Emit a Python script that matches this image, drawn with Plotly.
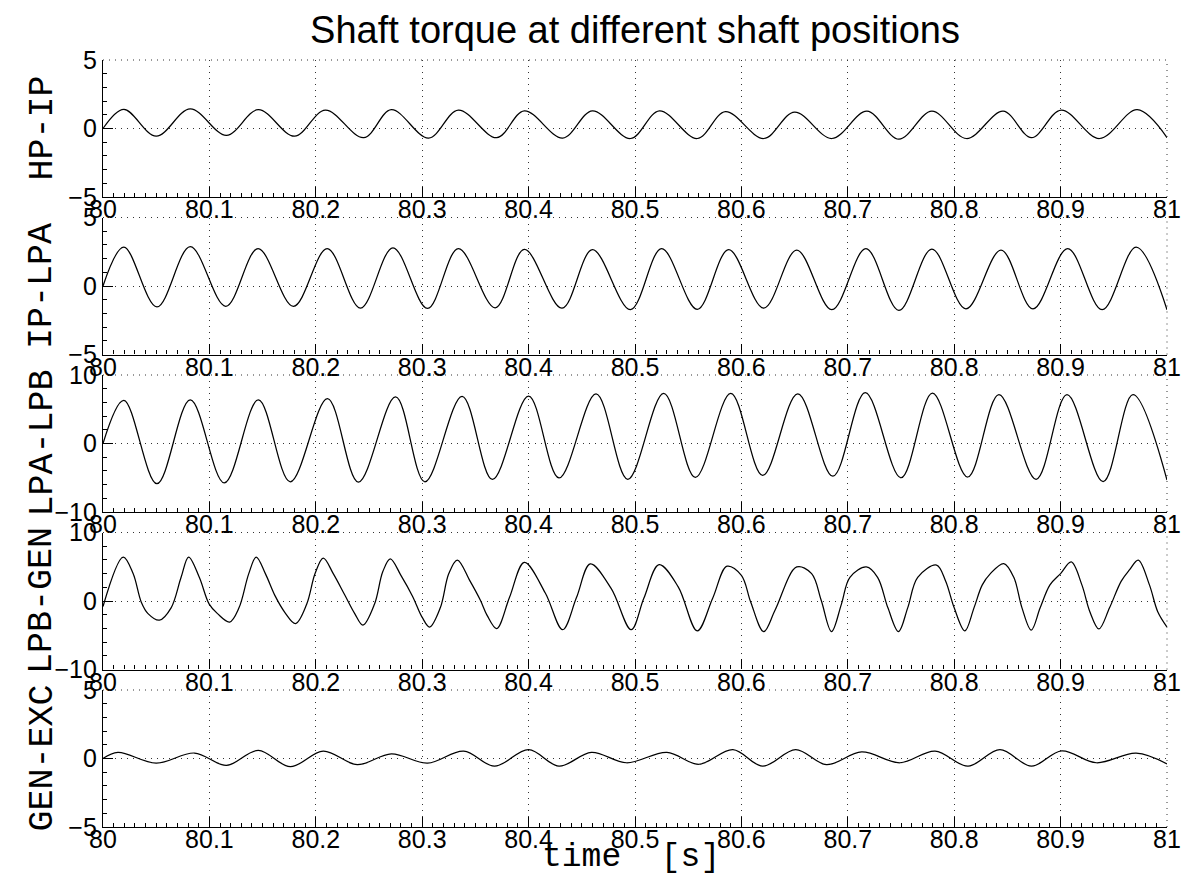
import plotly.graph_objects as go

# ---------------- data ----------------
hp_ip_t = [80.0, 80.0196, 80.05, 80.082, 80.116, 80.146, 80.18, 80.209, 80.245, 80.271, 80.306,
           80.334, 80.37, 80.396, 80.432, 80.46, 80.4957, 80.523, 80.5585, 80.585, 80.621, 80.65,
           80.685, 80.718, 80.748, 80.779, 80.8116, 80.846, 80.8726, 80.9006, 80.9365, 80.972, 81.0]
hp_ip_v = [0.0, 1.4, -0.56, 1.43, -0.5, 1.37, -0.56, 1.34, -0.67, 1.37, -0.7,
           1.34, -0.67, 1.29, -0.7, 1.29, -0.73, 1.29, -0.73, 1.23, -0.73, 1.2,
           -0.73, 1.26, -0.78, 1.26, -0.73, 1.26, -0.67, 1.34, -0.73, 1.37, -0.67]

ip_lpa_t = [80.0, 80.0196, 80.0507, 80.082, 80.1154, 80.1457, 80.179, 80.2107, 80.242, 80.2725, 80.305,
            80.334, 80.3686, 80.396, 80.4314, 80.46, 80.4957, 80.525, 80.5585, 80.588, 80.621, 80.652,
            80.685, 80.717, 80.748, 80.779, 80.811, 80.844, 80.874, 80.9067, 80.939, 80.971, 81.0]
ip_lpa_v = [0.0, 2.84, -1.53, 2.87, -1.48, 2.73, -1.48, 2.73, -1.62, 2.79, -1.64,
            2.73, -1.59, 2.67, -1.62, 2.65, -1.73, 2.73, -1.7, 2.65, -1.62, 2.62,
            -1.73, 2.73, -1.78, 2.7, -1.67, 2.62, -1.67, 2.73, -1.73, 2.84, -1.73]

lpa_lpb_t = [80.0, 80.0196, 80.0507, 80.082, 80.114, 80.146, 80.176, 80.211, 80.24, 80.275, 80.3025,
             80.3375, 80.366, 80.4, 80.4286, 80.4634, 80.4932, 80.527, 80.5567, 80.59, 80.62, 80.653,
             80.686, 80.7164, 80.75, 80.7795, 80.8127, 80.842, 80.877, 80.906, 80.94, 80.968, 81.0]
lpa_lpb_v = [0.0, 6.3, -5.87, 6.37, -5.75, 6.37, -5.59, 6.54, -5.64, 6.8, -5.59,
             6.87, -5.25, 6.93, -5.03, 7.25, -5.22, 7.3, -4.94, 7.3, -4.66, 7.25,
             -4.78, 7.42, -5.0, 7.36, -4.89, 7.13, -5.22, 7.13, -5.56, 7.13, -5.34]

lpb_gen_t = [80.0, 80.019, 80.0283, 80.036, 80.0423, 80.053, 80.064, 80.0734, 80.0805,
             80.0905, 80.0998, 80.1076, 80.119, 80.1278, 80.137, 80.144,
             80.1526, 80.162, 80.171, 80.181, 80.1915, 80.1993, 80.207,
             80.2164, 80.227, 80.2366, 80.2443, 80.2552, 80.263, 80.27,
             80.28, 80.291, 80.3, 80.307, 80.317, 80.325, 80.333,
             80.345, 80.3547, 80.361, 80.37, 80.382, 80.396,
             80.4157, 80.432, 80.445, 80.458, 80.4777, 80.4964, 80.5083, 80.5226,
             80.5406, 80.5585, 80.573, 80.5865, 80.6, 80.6088, 80.621, 80.6318, 80.652,
             80.666, 80.675, 80.6847, 80.694, 80.702, 80.7174,
             80.728, 80.7377, 80.7476, 80.7563, 80.7657, 80.7834,
             80.792, 80.8, 80.81, 80.8186, 80.8264, 80.834, 80.8466,
             80.856, 80.8637, 80.8724, 80.8808, 80.89, 80.9, 80.91,
             80.92, 80.9275, 80.936, 80.946, 80.957, 80.9649, 80.973,
             80.9835, 80.9913, 81.0]
lpb_gen_v = [-0.8, 6.42, 4.0, -0.17, -1.84, -2.8, -1.0, 3.46, 6.42,
             3.46, -0.45, -1.84, -3.07, -1.0, 4.0, 6.42,
             4.0, 0.67, -1.68, -3.3, -0.45, 4.0, 6.26,
             4.0, 0.95, -1.84, -3.52, -0.45, 4.3, 6.15,
             3.74, 0.67, -2.4, -3.8, -1.0, 4.0, 5.98,
             2.9, 0.1, -2.1, -4.02, 0.5, 5.64,
             1.17, -4.19, 0.5, 5.42, 1.8, -4.19, 0.39, 5.3,
             2.07, -4.36, 0.4, 5.08, 3.74, -0.17, -4.47, -1.28, 4.97,
             4.0, 0.1, -4.47, -0.45, 3.46, 4.97,
             3.46, -1.0, -4.47, -1.0, 3.46, 5.25,
             2.9, -1.0, -4.36, -1.0, 2.35, 4.0, 5.47,
             3.46, -1.0, -4.25, -1.0, 2.35, 4.0, 5.7,
             2.35, -1.56, -4.08, -1.0, 2.9, 4.58, 5.98,
             2.35, -1.56, -3.8]

gen_exc_t = [80.0, 80.014, 80.05, 80.086, 80.116, 80.146, 80.176, 80.207, 80.239, 80.271, 80.305,
             80.339, 80.368, 80.4, 80.4286, 80.459, 80.492, 80.53, 80.56, 80.592, 80.62, 80.651,
             80.68, 80.713, 80.749, 80.782, 80.813, 80.843, 80.8726, 80.901, 80.9336, 80.971, 81.0]
gen_exc_v = [0.0, 0.45, -0.34, 0.4, -0.5, 0.6, -0.6, 0.54, -0.45, 0.34, -0.34,
             0.54, -0.56, 0.65, -0.56, 0.45, -0.31, 0.45, -0.42, 0.65, -0.56, 0.65,
             -0.45, 0.48, -0.31, 0.54, -0.56, 0.65, -0.56, 0.56, -0.31, 0.39, -0.39]

panel_names = ["HP-IP", "IP-LPA", "LPA-LPB", "LPB-GEN", "GEN-EXC"]
panel_limits = [5, 5, 10, 10, 5]
x_ticks = [80, 80.1, 80.2, 80.3, 80.4, 80.5, 80.6, 80.7, 80.8, 80.9, 81]
x_tick_text = ["80", "80.1", "80.2", "80.3", "80.4", "80.5", "80.6", "80.7", "80.8", "80.9", "81"]
title_text = "Shaft torque at different shaft positions"
x_title = "time  [s]"

series = [(hp_ip_t, hp_ip_v), (ip_lpa_t, ip_lpa_v), (lpa_lpb_t, lpa_lpb_v),
          (lpb_gen_t, lpb_gen_v), (gen_exc_t, gen_exc_v)]

# ---------------- layout geometry ----------------
W, H = 1193, 877
M_L, M_R, M_T, M_B = 103, 18, 60, 50
PH = H - M_T - M_B
panel_h = 137
panel_step = 157.5

fig = go.Figure()
tick_font = dict(family="Liberation Sans, Arial, sans-serif", size=25, color="black")
grid_dash = "1px,5px"
grid_col = "#333"

for i, ((t, v), name, lim) in enumerate(zip(series, panel_names, panel_limits)):
    k = "" if i == 0 else str(i + 1)
    top = panel_step * i
    bot = top + panel_h
    dom = [1 - bot / PH, 1 - top / PH]
    fig.add_trace(go.Scatter(x=t, y=v, mode="lines", xaxis="x" + k, yaxis="y" + k,
                             line=dict(color="black", width=1.25, shape="spline", smoothing=1.0),
                             showlegend=False, hoverinfo="skip"))
    fig.layout["xaxis" + k] = dict(
        domain=[0, 1], anchor="y" + k, range=[80, 81],
        tickmode="array", tickvals=x_ticks, ticktext=x_tick_text,
        ticks="inside", ticklen=10, tickwidth=1, tickcolor="black",
        showline=True, linecolor="black", linewidth=1.3, mirror=False,
        showgrid=True, gridcolor=grid_col, gridwidth=1, griddash=grid_dash,
        zeroline=False, tickfont=tick_font, ticklabelstandoff=-10,
        minor=dict(ticks="inside", ticklen=4, dtick=0.01, tickcolor="black", showgrid=False),
    )
    fig.layout["yaxis" + k] = dict(
        domain=dom, anchor="x" + k, range=[-lim, lim],
        tickmode="array", tickvals=[-lim, 0, lim],
        ticks="inside", ticklen=10, tickwidth=1, tickcolor="black",
        showline=True, linecolor="black", linewidth=1.3, mirror=False,
        showgrid=True, gridcolor=grid_col, gridwidth=1, griddash=grid_dash,
        zeroline=False, tickfont=tick_font, ticklabelstandoff=0,
        minor=dict(ticks="inside", ticklen=4, dtick=lim / 5, tickcolor="black", showgrid=False),
    )
    # dotted top and right borders (box off, grid on)
    fig.add_shape(type="line", xref="x" + k + " domain", yref="y" + k + " domain",
                  x0=0, x1=1, y0=1, y1=1, line=dict(color=grid_col, width=1, dash=grid_dash))
    fig.add_shape(type="line", xref="x" + k + " domain", yref="y" + k + " domain",
                  x0=1, x1=1, y0=0, y1=1, line=dict(color=grid_col, width=1, dash=grid_dash))
    fig.add_annotation(text=name, xref="paper", yref="y" + k + " domain",
                       x=0, y=0.5, xanchor="center", yanchor="middle", xshift=-61,
                       textangle=-90, showarrow=False,
                       font=dict(family="Liberation Mono, Courier New, monospace", size=35, color="black"))

fig.add_annotation(text=x_title, xref="paper", yref="paper", x=0.5, y=0,
                   xanchor="center", yanchor="bottom", xshift=-4, yshift=-50,
                   showarrow=False, borderpad=0,
                   font=dict(family="Liberation Mono, Courier New, monospace", size=33, color="black"))

fig.update_layout(
    width=W, height=H,
    margin=dict(l=M_L, r=M_R, t=M_T, b=M_B),
    paper_bgcolor="white", plot_bgcolor="white",
    title=dict(text=title_text, x=0.5, xref="paper", xanchor="center",
               y=1 - 30 / H, yref="container", yanchor="middle",
               font=dict(family="Liberation Sans, Arial, sans-serif", size=38, color="black")),
    showlegend=False,
)

fig.write_html("out.html", config={"displayModeBar": False})
